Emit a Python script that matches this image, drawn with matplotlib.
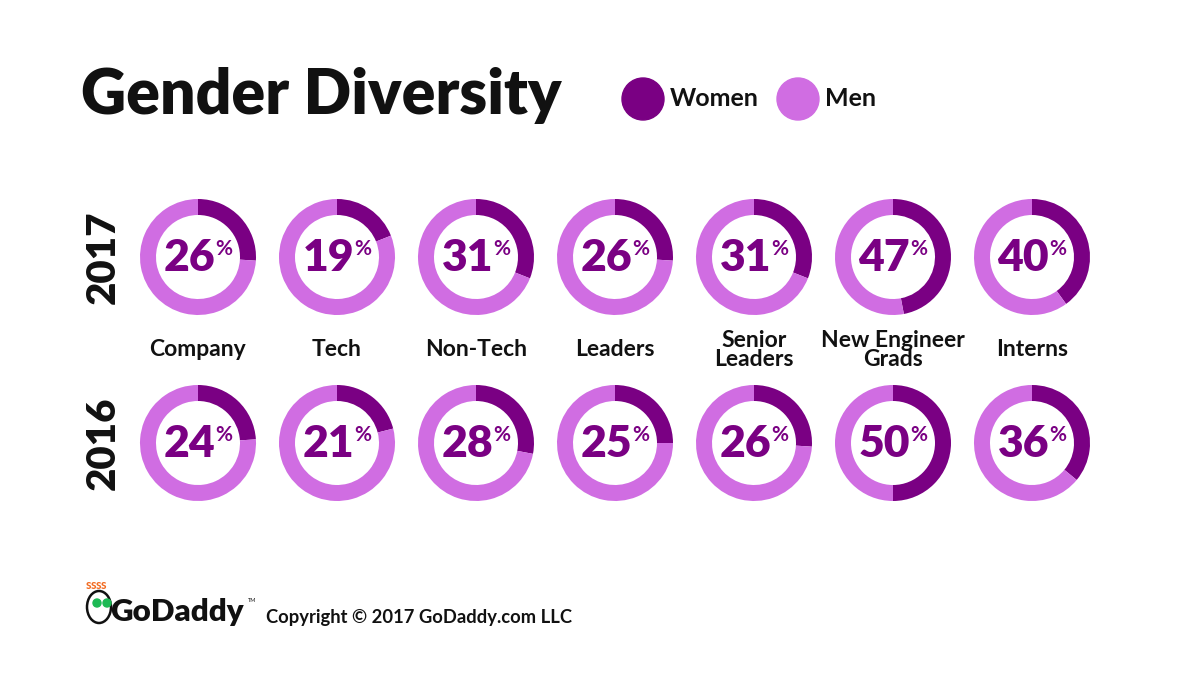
import matplotlib
matplotlib.use("Agg")
import matplotlib.pyplot as plt
from matplotlib.patches import Circle, Ellipse

DARK = "#7a0083"
LIGHT = "#d06de2"
INK = "#111111"

categories = ["Company", "Tech", "Non-Tech", "Leaders", "Senior\nLeaders",
              "New Engineer\nGrads", "Interns"]
years = ["2017", "2016"]
women_2017 = [26, 19, 31, 26, 31, 47, 40]
women_2016 = [24, 21, 28, 25, 26, 50, 36]

plt.rcParams["font.family"] = ["Lato", "DejaVu Sans"]

W, H = 1201, 675
fig = plt.figure(figsize=(W / 100, H / 100), dpi=100)
ax = fig.add_axes([0, 0, 1, 1])

# layout (pixels, y measured from top)
x0, dx = 198, 139
row_y = [257, 443]
R, ring = 58, 16

def py(y):
    return H - y

for r, (year, vals) in enumerate(zip(years, [women_2017, women_2016])):
    cy = py(row_y[r])
    ax.text(103, cy, year, rotation=90, fontsize=29, fontweight="heavy",
            color=INK, va="center", ha="center")
    for i, v in enumerate(vals):
        cx = x0 + i * dx
        ax.pie([v, 100 - v], colors=[DARK, LIGHT], startangle=90,
               counterclock=False, center=(cx, cy), radius=R,
               wedgeprops=dict(width=ring, linewidth=0), frame=True)
        ax.text(cx + 17, cy - 1, str(v), fontsize=32, fontweight="heavy",
                color=DARK, va="center", ha="right")
        ax.text(cx + 17, cy + 8, "%", fontsize=15, fontweight="bold",
                color=DARK, va="center", ha="left")

ax.set_xlim(0, W)
ax.set_ylim(0, H)
ax.set_aspect("equal")
ax.axis("off")

# title + legend
ax.text(81, py(95), "Gender Diversity", fontsize=45, fontweight="heavy",
        color=INK, va="center", ha="left")
ax.add_patch(Circle((643, py(99)), 21, color=DARK))
ax.text(670, py(99), "Women", fontsize=18, fontweight="bold", color=INK,
        va="center", ha="left")
ax.add_patch(Circle((798, py(99)), 21, color=LIGHT))
ax.text(825, py(99), "Men", fontsize=18, fontweight="bold", color=INK,
        va="center", ha="left")

# category labels between rows
for i, c in enumerate(categories):
    ax.text(x0 + i * dx, py(350), c, fontsize=16.5, fontweight="bold",
            color=INK, va="center", ha="center", linespacing=0.9)

# footer: small logo + copyright
ax.add_patch(Ellipse((99, py(607)), 24, 32, fill=False, ec=INK, lw=1.8))
ax.add_patch(Circle((97, py(603)), 4, color="#1db954"))
ax.add_patch(Circle((107, py(603)), 4, color="#1db954"))
for k in range(4):
    ax.text(88 + k * 5, py(585), "s", fontsize=9, color="#f26b21",
            va="center", ha="center", fontweight="bold")
ax.text(110, py(612), "GoDaddy", fontsize=22.5, fontweight="heavy",
        color=INK, va="center", ha="left")
ax.text(248, py(600), "TM", fontsize=4, color=INK, va="center", ha="left")
ax.text(266, py(617), "Copyright \u00a9 2017 GoDaddy.com LLC", fontsize=13.2,
        fontweight="bold", color=INK, va="center", ha="left")

fig.savefig("out.png", dpi=100, facecolor="white")
